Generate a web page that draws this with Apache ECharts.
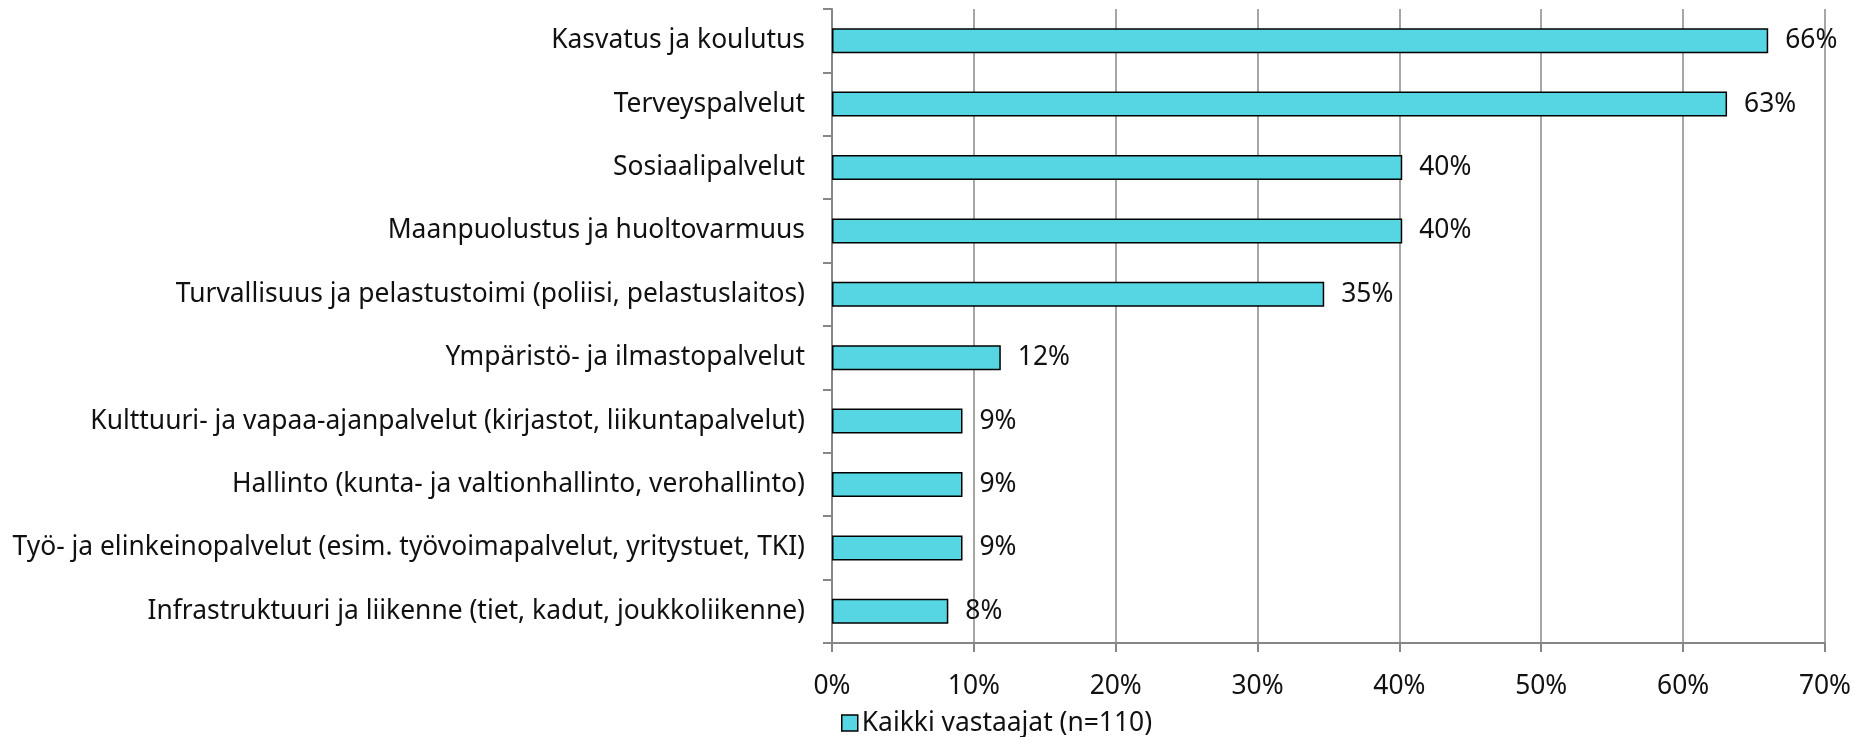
<!DOCTYPE html>
<html>
<head>
<meta charset="utf-8">
<script src="https://cdn.jsdelivr.net/npm/echarts@6/dist/echarts.min.js"></script>
<style>
html,body{margin:0;padding:0;background:#fff;}
#chart{width:1854px;height:737px;}
</style>
</head>
<body>
<div id="chart"></div>
<script>
const categories = [
  "Kasvatus ja koulutus",
  "Terveyspalvelut",
  "Sosiaalipalvelut",
  "Maanpuolustus ja huoltovarmuus",
  "Turvallisuus ja pelastustoimi (poliisi, pelastuslaitos)",
  "Ympäristö- ja ilmastopalvelut",
  "Kulttuuri- ja vapaa-ajanpalvelut (kirjastot, liikuntapalvelut)",
  "Hallinto (kunta- ja valtionhallinto, verohallinto)",
  "Työ- ja elinkeinopalvelut (esim. työvoimapalvelut, yritystuet, TKI)",
  "Infrastruktuuri ja liikenne (tiet, kadut, joukkoliikenne)"
];
const seriesName = "Kaikki vastaajat (n=110)";
const values = [66.0, 63.1, 40.2, 40.2, 34.7, 11.9, 9.2, 9.2, 9.2, 8.2];
const xTicks = [0, 10, 20, 30, 40, 50, 60, 70];

const FONT = "Noto Sans";
const FS = 26.4;
const chart = echarts.init(document.getElementById('chart'), null, {renderer: 'canvas'});
chart.setOption({
  animation: false,
  backgroundColor: '#ffffff',
  textStyle: {fontFamily: FONT},
  grid: {left: 832, top: 9, right: 29, bottom: 94, containLabel: false},
  legend: {
    left: 836, top: 705,
    itemWidth: 16, itemHeight: 16,
    itemGap: 10,
    icon: 'rect',
    textStyle: {fontFamily: FONT, fontSize: FS, color: '#111', padding: [0, 0, 0, -1]},
    data: [{name: seriesName, itemStyle: {borderColor: '#000', borderWidth: 1.5}}]
  },
  xAxis: {
    type: 'value',
    min: xTicks[0], max: xTicks[xTicks.length - 1], interval: 10,
    axisLine: {show: true, lineStyle: {color: '#868686', width: 2}},
    axisTick: {show: true, length: 9, lineStyle: {color: '#868686', width: 2}},
    splitLine: {show: true, lineStyle: {color: '#888888', width: 1.5}},
    axisLabel: {
      margin: 30, fontSize: FS, color: '#111', fontFamily: FONT,
      formatter: v => v + '%'
    }
  },
  yAxis: {
    type: 'category',
    data: categories,
    inverse: true,
    axisLine: {show: true, lineStyle: {color: '#868686', width: 2}},
    axisTick: {show: true, length: 9, lineStyle: {color: '#868686', width: 2}},
    axisLabel: {margin: 27, fontSize: FS, color: '#111', fontFamily: FONT}
  },
  series: [{
    name: seriesName,
    type: 'bar',
    data: values,
    barWidth: 25,
    itemStyle: {color: '#55D6E2', borderColor: '#000', borderWidth: 1.5},
    label: {
      show: true, position: 'right', distance: 17,
      fontSize: FS, color: '#111', fontFamily: FONT,
      formatter: p => Math.round(p.value) + '%'
    }
  }]
});
</script>
</body>
</html>
